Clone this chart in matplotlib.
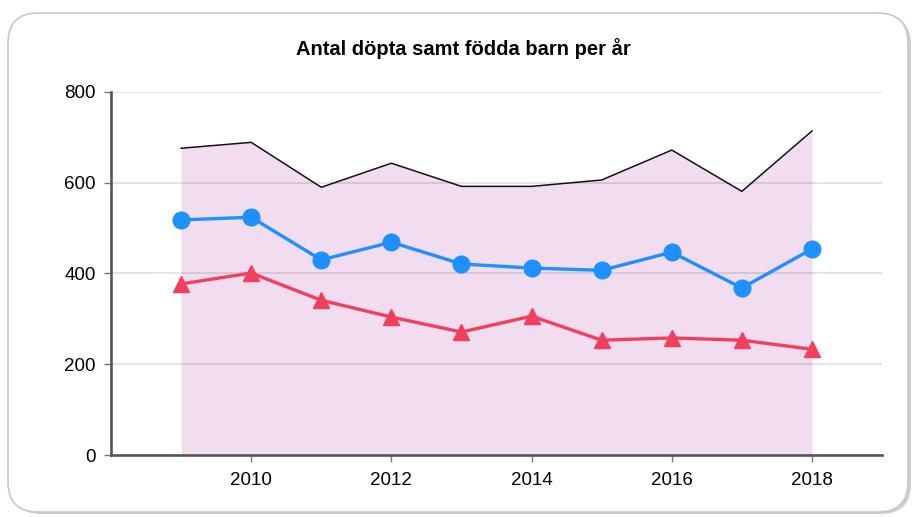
import matplotlib.pyplot as plt
from matplotlib.patches import FancyBboxPatch
from matplotlib.transforms import IdentityTransform

plt.rcParams['font.family'] = ['Liberation Sans', 'DejaVu Sans']

years = [2009, 2010, 2011, 2012, 2013, 2014, 2015, 2016, 2017, 2018]
fodda = [676, 689, 590, 643, 592, 592, 606, 672, 581, 714]
dopta_blue = [518, 524, 430, 469, 421, 412, 407, 447, 368, 454]
dopta_red = [377, 401, 341, 304, 271, 306, 253, 258, 253, 233]
yticks = [0, 200, 400, 600, 800]
xticks = [2010, 2012, 2014, 2016, 2018]

fig = plt.figure(figsize=(9.15, 5.17), dpi=100)

# rounded frame round the whole chart
shadow = FancyBboxPatch((11, 3), 900, 499, boxstyle="round,pad=0,rounding_size=30",
                        transform=IdentityTransform(), facecolor='#cfcfcf',
                        edgecolor='none', zorder=0)
frame = FancyBboxPatch((8, 5), 900, 499, boxstyle="round,pad=0,rounding_size=30",
                       transform=IdentityTransform(), facecolor='white',
                       edgecolor='#c8c8c8', linewidth=1.2, zorder=0)
fig.add_artist(shadow)
fig.add_artist(frame)

ax = fig.add_axes([0.1213, 0.1199, 0.8427, 0.7022])
ax.patch.set_alpha(0)

ax.fill_between(years, fodda, 0, color='#f1dcf0', zorder=1, linewidth=0)
for t in yticks[1:]:
    ax.axhline(t, color='#000000', alpha=0.12, linewidth=1.2, zorder=1.5)
ax.plot(years, fodda, color='#111111', linewidth=1.1, zorder=2)
ax.plot(years, dopta_blue, color='#1e90ff', linewidth=2.4, marker='o',
        markersize=12, zorder=3)
ax.plot(years, dopta_red, color='#f2405c', linewidth=2.4, marker='^',
        markersize=12, zorder=3)

ax.set_xlim(2008, 2019)
ax.set_ylim(0, 800)
ax.set_yticks(yticks)
ax.set_xticks(xticks)
ax.tick_params(axis='both', labelsize=13.5, color='#777777', length=5, width=1)
ax.tick_params(axis='x', pad=7)
ax.tick_params(axis='y', pad=6)

for s in ['top', 'right']:
    ax.spines[s].set_visible(False)
for s in ['left', 'bottom']:
    ax.spines[s].set_color('#555555')
    ax.spines[s].set_linewidth(1.9)

fig.text(0.5066, 0.907, 'Antal döpta samt födda barn per år', ha='center',
         va='center', fontsize=14.5, fontweight='bold')

fig.savefig('out.png', dpi=100)
